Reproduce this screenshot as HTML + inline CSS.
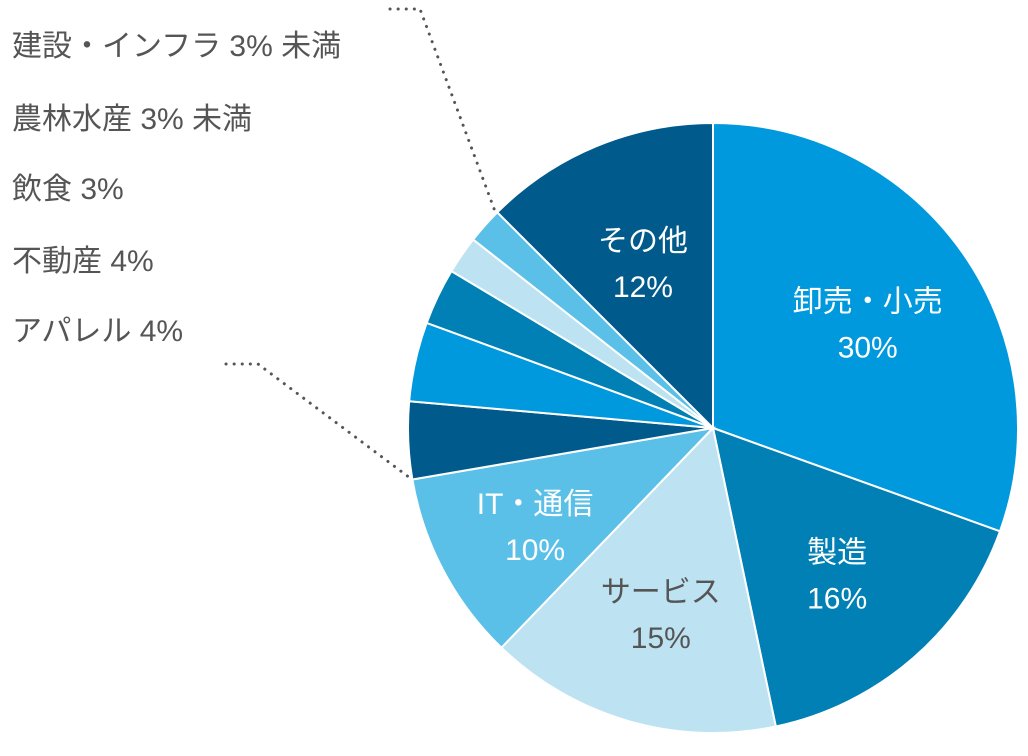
<!DOCTYPE html>
<html><head><meta charset="utf-8"><style>
html,body{margin:0;padding:0;background:#fff;width:1028px;height:756px;overflow:hidden}
svg text{font-family:"Liberation Sans","Noto Sans CJK JP",sans-serif}
</style></head><body>
<svg id="chart" width="1028" height="756" viewBox="0 0 1028 756">
<g id="slices"></g>
<g id="inner"></g>
<g fill="#555" font-size="30">
<text x="12" y="56">建設・インフラ  3% 未満</text>
<text x="12" y="129">農林水産  3% 未満</text>
<text x="12" y="199">飲食  3%</text>
<text x="12" y="271">不動産  4%</text>
<text x="12" y="341">アパレル  4%</text>
</g>
<polyline points="390,9 420,9 496,214" fill="none" stroke="#555" stroke-width="3" stroke-dasharray="0.1 8" stroke-linecap="round"/>
<polyline points="226,364 258,364 410,478" fill="none" stroke="#555" stroke-width="3" stroke-dasharray="0.1 8" stroke-linecap="round"/>
</svg>
<script>
const categories=["卸売・小売","製造","サービス","IT・通信","アパレル","不動産","飲食","農林水産","建設・インフラ","その他"];
const values=[30.5,16.2,15.5,10.1,4.1,4.2,3,2,1.9,12.5];
const printed=["30%","16%","15%","10%","","","","","","12%"];
const colors=["#0099dd","#0080b4","#bde2f2","#5bc0e8","#005a8c","#0099dd","#0080b4","#bde2f2","#5bc0e8","#005a8c"];
const cx=713,cy=428,R=305;
const ns="http://www.w3.org/2000/svg";
const total=values.reduce((a,b)=>a+b,0);
function pt(frac,r){const a=frac*2*Math.PI;return [cx+r*Math.sin(a),cy-r*Math.cos(a)];}
const g=document.getElementById('slices'),gi=document.getElementById('inner');
let acc=0;
const labelR=[0.62,0.62,0.62,0.66,0,0,0,0,0,0.6];
const textColor=["#fff","#fff","#555","#fff","","","","","","#fff"];
values.forEach((v,i)=>{
 const s=acc/total,e=(acc+v)/total;acc+=v;
 const [x1,y1]=pt(s,R),[x2,y2]=pt(e,R);
 const p=document.createElementNS(ns,'path');
 p.setAttribute('d',`M${cx},${cy}L${x1},${y1}A${R},${R} 0 ${e-s>0.5?1:0} 1 ${x2},${y2}Z`);
 p.setAttribute('fill',colors[i]);p.setAttribute('stroke','#fff');p.setAttribute('stroke-width','2');
 
 
 g.appendChild(p);
 if(printed[i]){
  const [lx,ly]=pt((s+e)/2,R*labelR[i]);
  const t=document.createElementNS(ns,'text');
  t.setAttribute('x',lx);t.setAttribute('y',ly-8);t.setAttribute('text-anchor','middle');
  t.setAttribute('font-size','30');t.setAttribute('fill',textColor[i]);
  
  
  t.textContent=categories[i];gi.appendChild(t);
  const t2=document.createElementNS(ns,'text');
  t2.setAttribute('x',lx);t2.setAttribute('y',ly+38);t2.setAttribute('text-anchor','middle');
  t2.setAttribute('font-size','30');t2.setAttribute('fill',textColor[i]);
  
  
  t2.textContent=printed[i];gi.appendChild(t2);
 }
});
</script>
</body></html>
